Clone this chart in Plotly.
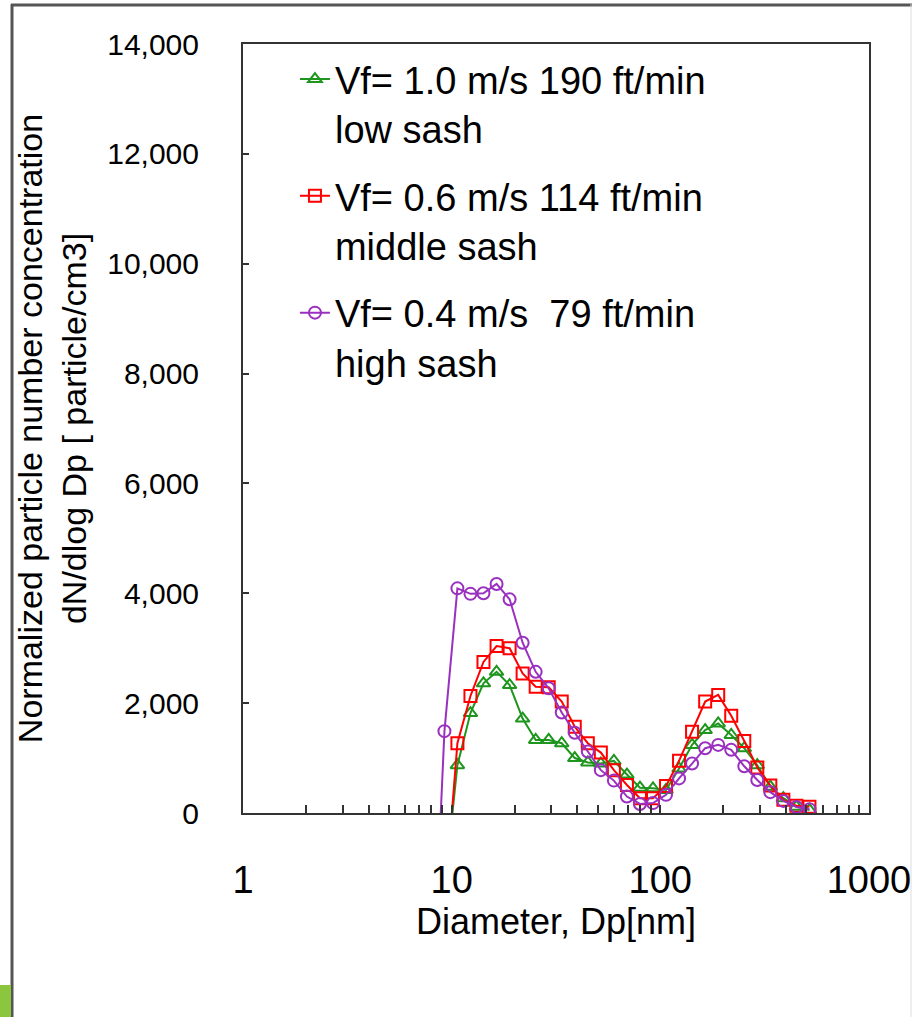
import plotly.graph_objects as go

# ---- data ----
diameter_nm = [7.99, 9.23, 10.65, 12.30, 14.20, 16.41, 18.95, 21.88, 25.27, 29.17,
               33.69, 38.90, 44.93, 51.88, 59.91, 69.18, 79.89, 92.26, 106.5, 123.0,
               142.0, 164.1, 189.5, 218.8, 252.7, 291.7, 336.9, 389.0, 449.3, 518.8]

low_sash = [None, -1400, 870, 1820, 2360, 2570, 2330, 1720, 1330, 1330,
            1270, 1000, 920, 900, 950, 700, 460, 450, 420, 810,
            1240, 1510, 1630, 1420, 1180, 870, 480, 270, 115, 55]

middle_sash = [None, -1700, 1270, 2130, 2750, 3040, 3000, 2540, 2300, 2290,
               2030, 1570, 1270, 1100, 780, 510, 270, 270, 490, 950,
               1480, 2030, 2150, 1770, 1310, 830, 500, 240, 130, 115]

high_sash = [-3800, 1490, 4090, 3990, 4000, 4170, 3890, 3100, 2570, 2270,
             1830, 1460, 1120, 780, 590, 300, 165, 180, 330, 630,
             900, 1180, 1240, 1150, 850, 600, 380, 220, 110, 70]

series_names = ["Vf= 1.0 m/s 190 ft/min<br>low sash",
                "Vf= 0.6 m/s 114 ft/min<br>middle sash",
                "Vf= 0.4 m/s  79 ft/min<br>high sash"]

y_ticks = [0, 2000, 4000, 6000, 8000, 10000, 12000, 14000]
x_decades = [1, 10, 100, 1000]

# ---- styling ----
W, H = 912, 1017
L, R, T, B = 243, 869, 44, 813
FONT = "Liberation Sans, Arial, sans-serif"

def px_x(p):
    return (p - L) / (R - L)

def px_y(p):
    return (B - p) / (B - T)

fig = go.Figure()
specs = [
    (low_sash, "#1E961E", "triangle-up-open", "g1"),
    (middle_sash, "#FF0000", "square-open", "g2"),
    (high_sash, "#9A30C0", "circle-open", "g3"),
]
for (vals, col, sym, grp), name in zip(specs, series_names):
    fig.add_trace(go.Scatter(
        x=diameter_nm, y=vals, name=name, mode="lines+markers",
        legendgroup=grp,
        line=dict(color=col, width=2),
        marker=dict(symbol=sym, size=12, color=col, line=dict(width=2, color=col)),
        connectgaps=False,
    ))

# x tick positions: 1..9 per decade
xtickvals, xticktext = [], []
for d in x_decades[:-1]:
    for m in range(1, 10):
        xtickvals.append(d * m)
        xticktext.append(str(d) if m == 1 else "")
xtickvals.append(x_decades[-1])
xticktext.append(str(x_decades[-1]))

fig.update_layout(
    width=W, height=H,
    margin=dict(l=L, r=W - R, t=T, b=H - B),
    paper_bgcolor="white", plot_bgcolor="white",
    showlegend=True,
    legend=dict(x=0.083, y=0.995, xanchor="left", yanchor="top",
                bgcolor="rgba(0,0,0,0)", valign="top",
                font=dict(family=FONT, size=38, color="black"),
                tracegroupgap=15),
    xaxis=dict(type="log", range=[-0.0005, 3.0005], tickvals=xtickvals, ticktext=xticktext,
               ticks="inside", ticklen=8, tickwidth=2, tickcolor="#333",
               showline=True, linecolor="#333", linewidth=2, mirror=True,
               showgrid=False, zeroline=False, automargin=False,
               ticklabelstandoff=32,
               tickfont=dict(family=FONT, size=38, color="black"),
               title=dict(text="Diameter, Dp[nm]", standoff=4,
                          font=dict(family=FONT, size=36, color="black"))),
    yaxis=dict(range=[0, 14000], tickvals=y_ticks, tickformat=",",
               ticks="inside", ticklen=6, tickwidth=2, tickcolor="#333",
               showline=True, linecolor="#333", linewidth=2, mirror=True,
               showgrid=False, zeroline=False, automargin=False,
               ticklabelstandoff=36,
               tickfont=dict(family=FONT, size=30, color="black"),
               title=dict(text="Normalized particle number concentration<br>dN/dlog Dp [ particle/cm3]",
                          standoff=10,
                          font=dict(family=FONT, size=34, color="black"))),
    shapes=[
        dict(type="line", xref="paper", yref="paper", x0=px_x(11), x1=px_x(912),
             y0=px_y(5), y1=px_y(5), line=dict(color="#555", width=3)),
        dict(type="line", xref="paper", yref="paper", x0=px_x(12), x1=px_x(12),
             y0=px_y(4), y1=px_y(1017), line=dict(color="#555", width=3)),
        dict(type="line", xref="paper", yref="paper", x0=px_x(911), x1=px_x(911),
             y0=px_y(4), y1=px_y(1017), line=dict(color="#ddd", width=1)),
        dict(type="rect", xref="paper", yref="paper", x0=px_x(0), x1=px_x(11),
             y0=px_y(985), y1=px_y(1017), fillcolor="#8CC63F", line=dict(width=0)),
    ],
)

fig.write_html("out.html", config={"displayModeBar": False},
               post_script="document.body.style.margin='0';")
